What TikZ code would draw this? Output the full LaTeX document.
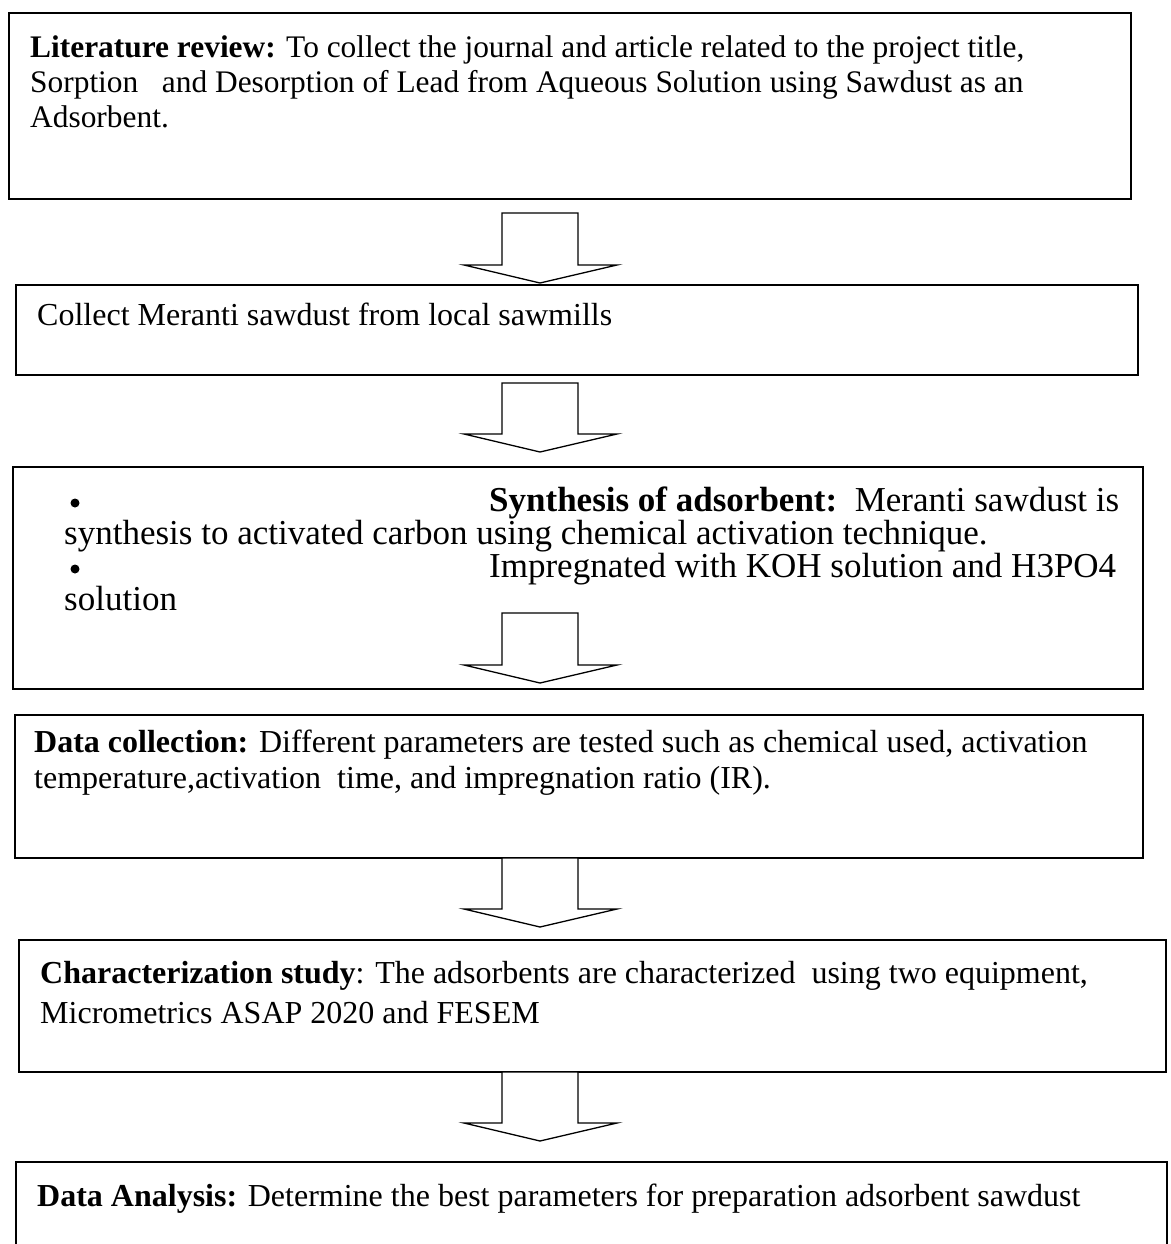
\documentclass[tikz,border=0pt]{standalone}
\usepackage{fontspec}
\setmainfont{Liberation Serif}
\begin{document}
\begin{tikzpicture}[x=1pt,y=-1pt,
  stepbox/.style={draw=black,line width=1.6pt,fill=none},
  blk/.style={draw=black,line width=1.3pt,fill=white,line join=miter},
  txt/.style={anchor=base west,inner sep=0pt,font=\fontsize{32}{36}\selectfont},
  txta/.style={anchor=base west,inner sep=0pt,font=\fontsize{31.4}{36}\selectfont},
  txtb/.style={anchor=base west,inner sep=0pt,font=\fontsize{35}{38}\selectfont},
  dot/.style={circle,fill=black,inner sep=0pt,minimum size=9pt}]
\clip (0,0) rectangle (1170,1244);
\useasboundingbox (0,0) rectangle (1170,1244);
\fill[white] (0,0) rectangle (1170,1244);
% boxes
\draw[stepbox] (9,13) rectangle (1131,199);
\node[inner sep=0pt] (b1) at (570,106) {};
\draw[stepbox] (16,285) rectangle (1138,375);
\node[inner sep=0pt] (b2) at (577,330) {};
\draw[stepbox] (13,467) rectangle (1143,689);
\node[inner sep=0pt] (b3) at (578,578) {};
\draw[stepbox] (15,715) rectangle (1143,858);
\node[inner sep=0pt] (b4) at (579,786) {};
\draw[stepbox] (19,940) rectangle (1166,1072);
\node[inner sep=0pt] (b5) at (592,1006) {};
\draw[stepbox] (16,1162) rectangle (1167,1270);
\node[inner sep=0pt] (b6) at (592,1216) {};
% block arrows
\newcommand\blockarr[3]{%
  \draw[blk] (502,#1) -- (578,#1) -- (578,#2) -- (617,#2) -- (540,#3) -- (464,#2) -- (502,#2) -- cycle;}
\blockarr{213}{265}{283}
\blockarr{383}{434}{452}
\blockarr{613}{665}{683}
\blockarr{858}{909}{927}
\blockarr{1072}{1123}{1141}
% texts
\node[txta] (t1a) at (30,58) {\textbf{Literature review:} To collect the journal and article related to the project title,};
\node[txta] (t1b) at (30,93) {Sorption\ \ \ and Desorption of Lead from Aqueous Solution using Sawdust as an};
\node[txta] (t1c) at (30,128) {Adsorbent.};
\node[txt] (t2a) at (37,325) {Collect Meranti sawdust from local sawmills};
\node[dot] (bul1) at (75,503) {};
\node[txtb] (t3a) at (489,511) {\textbf{Synthesis of adsorbent:}\ \ Meranti sawdust is};
\node[txtb] (t3b) at (64,544) {synthesis to activated carbon using chemical activation technique.};
\node[dot] (bul2) at (75,569) {};
\node[txtb] (t3c) at (489,577) {Impregnated with KOH solution and H3PO4};
\node[txtb] (t3d) at (64,610) {solution};
\node[txt] (t4a) at (34,752) {\textbf{Data collection:} Different parameters are tested such as chemical used, activation};
\node[txt] (t4b) at (34,788) {temperature,activation\ \ time, and impregnation ratio (IR).};
\node[txt] (t5a) at (40,983) {\textbf{Characterization study}: The adsorbents are characterized\ \ using two equipment,};
\node[txt] (t5b) at (40,1023) {Micrometrics ASAP 2020 and FESEM};
\node[txt] (t6a) at (37,1206) {\textbf{Data Analysis:} Determine the best parameters for preparation adsorbent sawdust};
\end{tikzpicture}
\end{document}
